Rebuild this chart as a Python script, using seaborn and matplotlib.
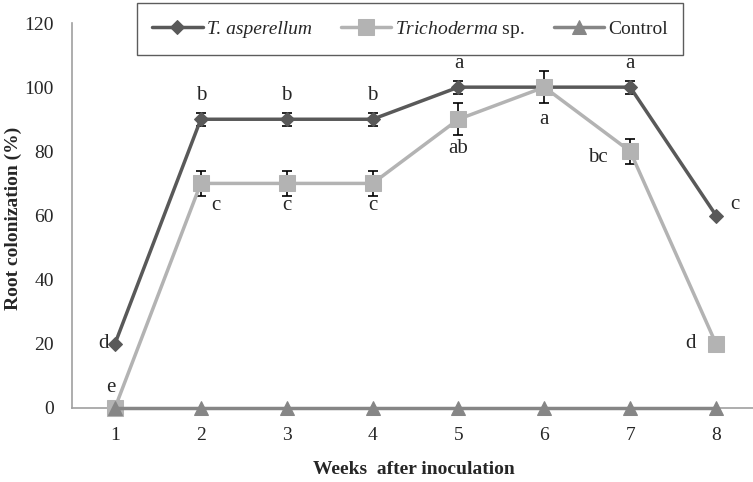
import numpy as np
import pandas as pd
import seaborn as sns
import matplotlib
matplotlib.use('Agg')
import matplotlib.pyplot as plt
from matplotlib.ticker import FixedLocator

# data
weeks = [1, 2, 3, 4, 5, 6, 7, 8]
t_asperellum = [20, 90, 90, 90, 100, 100, 100, 60]
t_asperellum_err = [0, 2, 2, 2, 2, 0, 2, 0]
trichoderma = [0, 70, 70, 70, 90, 100, 80, 20]
trichoderma_err = [0, 4, 4, 4, 5, 5, 4, 0]
control = [0, 0, 0, 0, 0, 0, 0, 0]

lab_asp = ['d', 'b', 'b', 'b', 'a', '', 'a', 'c']
lab_tri = ['e', 'c', 'c', 'c', 'ab', 'a', 'bc', 'd']

sns.set_style('white')
plt.rcParams['font.family'] = ['Liberation Serif', 'DejaVu Serif']
plt.rcParams['mathtext.fontset'] = 'custom'
plt.rcParams['mathtext.it'] = 'Liberation Serif:italic'
plt.rcParams['mathtext.rm'] = 'Liberation Serif'

names = ['T. asperellum', r'$\mathit{Trichoderma}$ sp.', 'Control']
df = pd.DataFrame({
    'week': weeks * 3,
    'value': t_asperellum + trichoderma + control,
    'series': [names[0]] * 8 + [names[1]] * 8 + [names[2]] * 8,
})
colors = {names[0]: '#595959', names[1]: '#b3b3b3', names[2]: '#868686'}
markers = {names[0]: 'D', names[1]: 's', names[2]: '^'}
msizes = {names[0]: 7, names[1]: 11, names[2]: 10}

fig = plt.figure(figsize=(7.53, 4.82), dpi=100)
ax = fig.add_axes([72 / 753, 74 / 482, 681 / 753, 385 / 482])

ax.errorbar(weeks, t_asperellum, yerr=t_asperellum_err, fmt='none',
            ecolor='black', elinewidth=1.2, capsize=3.5, capthick=1.2, zorder=3)
ax.errorbar(weeks, trichoderma, yerr=trichoderma_err, fmt='none',
            ecolor='black', elinewidth=1.2, capsize=3.5, capthick=1.2, zorder=3)

for i, name in enumerate(names):
    sub = df[df['series'] == name]
    sns.lineplot(data=sub, x='week', y='value', ax=ax, color=colors[name],
                 marker=markers[name], markersize=msizes[name],
                 markeredgecolor=colors[name], linewidth=2.5, label=name,
                 zorder=4 + i, clip_on=False)

fs = 15
for w, v, t in zip(weeks, t_asperellum, lab_asp):
    if not t:
        continue
    if w == 1:
        ax.text(w - 0.13, v, t, ha='center', va='center', fontsize=fs)
    elif w == 8:
        ax.text(w + 0.22, v + 3.5, t, ha='center', va='center', fontsize=fs)
    else:
        ax.text(w, v + 7.5, t, ha='center', va='center', fontsize=fs)

tri_pos = {1: (1 - 0.05, 6.5), 2: (2 + 0.17, 63), 3: (3, 63), 4: (4, 63),
           5: (5, 81), 6: (6, 90), 7: (7 - 0.38, 78), 8: (8 - 0.3, 20)}
for w, t in zip(weeks, lab_tri):
    x, y = tri_pos[w]
    ax.text(x, y, t, ha='center', va='center', fontsize=fs)

ax.set_xlim(0.5, 8.43)
ax.set_ylim(0, 120)
ax.set_yticks(np.arange(0, 121, 20))
ax.set_xticks(weeks)
ax.xaxis.set_minor_locator(FixedLocator(np.arange(1.5, 8, 1)))
ax.tick_params(axis='x', which='major', length=0, labelsize=14, pad=14)
ax.tick_params(axis='x', which='minor', length=6, color='#a0a0a0', direction='out')
ax.tick_params(axis='y', length=8, color='#a0a0a0', direction='out', labelsize=14, pad=5)
for s in ['top', 'right']:
    ax.spines[s].set_visible(False)
for s in ['left', 'bottom']:
    ax.spines[s].set_color('#a0a0a0')
    ax.spines[s].set_linewidth(1.2)

ax.set_xlabel('Weeks  after inoculation', fontsize=14, fontweight='bold')
ax.xaxis.set_label_coords((414 - 72) / 681, (408 - 461) / 385)
ax.set_ylabel('Root colonization (%)', fontsize=14, fontweight='bold')
ax.yaxis.set_label_coords((22 - 72) / 681, (408 - 218) / 385)

leg = ax.legend(loc='center', ncol=3,
                bbox_to_anchor=(410 / 753, 1 - 29 / 482),
                bbox_transform=fig.transFigure, fontsize=14, frameon=True,
                fancybox=False, edgecolor='#333333', handlelength=2.6,
                handletextpad=0.2, columnspacing=1.5,
                borderaxespad=0, borderpad=0.8)
leg.get_frame().set_linewidth(1.0)
leg.get_texts()[0].set_fontstyle('italic')

fig.savefig('out.png', dpi=100)
